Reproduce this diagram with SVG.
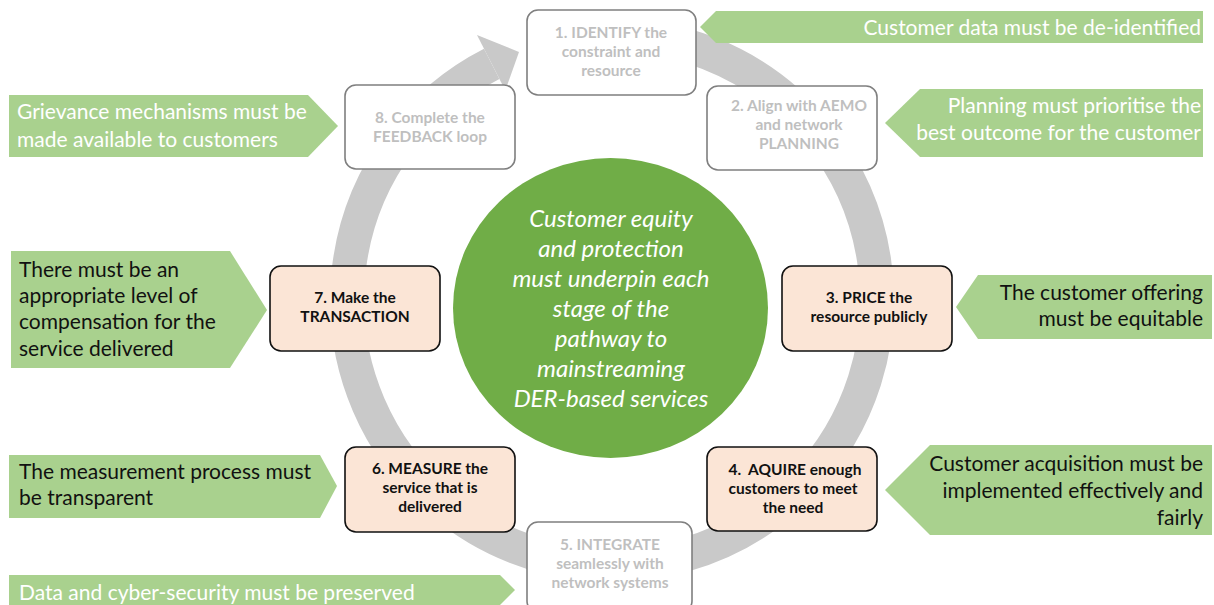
<svg xmlns="http://www.w3.org/2000/svg" width="1214" height="605" viewBox="0 0 1214 605">
<style>
.ring{fill:none;stroke:#c9c9c9;stroke-width:34}
.head{fill:#c9c9c9}
.gbox{fill:#ffffff;stroke:#7f7f7f;stroke-width:1.6}
.pbox{fill:#fbe5d6;stroke:#111111;stroke-width:1.6}
.gt{font-family:Lato,"Liberation Sans",sans-serif;font-weight:bold;font-size:15.5px;fill:#bfbfbf;text-anchor:middle}
.pt{font-family:Lato,"Liberation Sans",sans-serif;font-weight:bold;font-size:15.5px;fill:#111111;text-anchor:middle;white-space:pre}
.call{fill:#a9d18e}
.wt{font-family:Lato,"Liberation Sans",sans-serif;font-size:21px;fill:#ffffff}
.bt{font-family:Lato,"Liberation Sans",sans-serif;font-size:21px;fill:#111111}
.r{text-anchor:end}
.ct{font-family:Lato,"Liberation Sans",sans-serif;font-style:italic;font-size:24px;fill:#ffffff;text-anchor:middle}
</style>
<g id="connectors">
<path class="ring" d="M 588.9 36 A 265 265 0 1 1 491.7 63.9"/>
<polygon class="head" points="477,35 519,52 505.3,90.6"/>
</g>
<g id="center">
<ellipse cx="610.5" cy="308" rx="157.5" ry="150" fill="#70ad47"/>
<text class="ct"><tspan x="611" y="227">Customer equity</tspan><tspan x="611" y="257">and protection</tspan><tspan x="611" y="287">must underpin each</tspan><tspan x="611" y="317">stage of the</tspan><tspan x="611" y="347">pathway to</tspan><tspan x="611" y="377">mainstreaming</tspan><tspan x="611" y="407">DER-based services</tspan></text>
</g>
<g id="step1">
<rect class="gbox" x="527" y="10" width="169" height="85" rx="11"/>
<text class="gt"><tspan x="611" y="38">1. IDENTIFY the</tspan><tspan x="611" y="57">constraint and</tspan><tspan x="611" y="76">resource</tspan></text>
</g>
<g id="step2">
<rect class="gbox" x="707" y="86" width="170" height="84" rx="11"/>
<text class="gt"><tspan x="799" y="111">2. Align with AEMO</tspan><tspan x="799" y="130">and network</tspan><tspan x="799" y="149">PLANNING</tspan></text>
</g>
<g id="step3">
<rect class="pbox" x="782" y="266" width="170" height="85" rx="11"/>
<text class="pt"><tspan x="869" y="303">3. PRICE the</tspan><tspan x="869" y="322">resource publicly</tspan></text>
</g>
<g id="step4">
<rect class="pbox" x="707" y="447" width="170" height="84" rx="11"/>
<text class="pt"><tspan x="793" y="475"> 4.  AQUIRE enough</tspan><tspan x="793" y="494">customers to meet</tspan><tspan x="793" y="513">the need</tspan></text>
</g>
<g id="step5">
<rect class="gbox" x="527" y="522" width="165" height="90" rx="11"/>
<text class="gt"><tspan x="610" y="550">5. INTEGRATE</tspan><tspan x="610" y="569">seamlessly with</tspan><tspan x="610" y="588">network systems</tspan></text>
</g>
<g id="step6">
<rect class="pbox" x="345" y="447" width="170" height="85" rx="11"/>
<text class="pt"><tspan x="430" y="474">6. MEASURE the</tspan><tspan x="430" y="493">service that is</tspan><tspan x="430" y="512">delivered</tspan></text>
</g>
<g id="step7">
<rect class="pbox" x="270" y="266" width="170" height="85" rx="11"/>
<text class="pt"><tspan x="355" y="303">7. Make the</tspan><tspan x="355" y="322">TRANSACTION</tspan></text>
</g>
<g id="step8">
<rect class="gbox" x="345" y="85" width="170" height="84" rx="11"/>
<text class="gt"><tspan x="430" y="123">8. Complete the</tspan><tspan x="430" y="142">FEEDBACK loop</tspan></text>
</g>
<g id="callout-data">
<polygon class="call" points="700,27 716,11 1203,11 1203,43 716,43"/>
<text class="wt r" x="1201" y="35">Customer data must be de-identified</text>
</g>
<g id="callout-planning">
<polygon class="call" points="885,123 920,89 1203,89 1203,157 920,157"/>
<text class="wt r"><tspan x="1201" y="113">Planning must prioritise the</tspan><tspan x="1201" y="140">best outcome for the customer</tspan></text>
</g>
<g id="callout-grievance">
<polygon class="call" points="9,95 308,95 338,126 308,157 9,157"/>
<text class="wt"><tspan x="17" y="119">Grievance mechanisms must be</tspan><tspan x="17" y="147">made available to customers</tspan></text>
</g>
<g id="callout-compensation">
<polygon class="call" points="11,251 230,251 267,310 230,368 11,368"/>
<text class="bt"><tspan x="19" y="277">There must be an</tspan><tspan x="19" y="303">appropriate level of</tspan><tspan x="19" y="329">compensation for the</tspan><tspan x="19" y="356">service delivered</tspan></text>
</g>
<g id="callout-offering">
<polygon class="call" points="956,307 978,275 1212,275 1212,339 978,339"/>
<text class="bt r"><tspan x="1203" y="300">The customer offering</tspan><tspan x="1203" y="326">must be equitable</tspan></text>
</g>
<g id="callout-measurement">
<polygon class="call" points="9,455 320,455 337,486 320,518 9,518"/>
<text class="bt"><tspan x="19" y="479">The measurement process must</tspan><tspan x="19" y="505">be transparent</tspan></text>
</g>
<g id="callout-acquisition">
<polygon class="call" points="885,490 930,445 1212,445 1212,535 930,535"/>
<text class="bt r"><tspan x="1203" y="471">Customer acquisition must be</tspan><tspan x="1203" y="498">implemented effectively and</tspan><tspan x="1203" y="525">fairly</tspan></text>
</g>
<g id="callout-security">
<polygon class="call" points="9,575 500,575 515,590 500,605 9,605"/>
<text class="wt" x="19" y="600">Data and cyber-security must be preserved</text>
</g>
</svg>
